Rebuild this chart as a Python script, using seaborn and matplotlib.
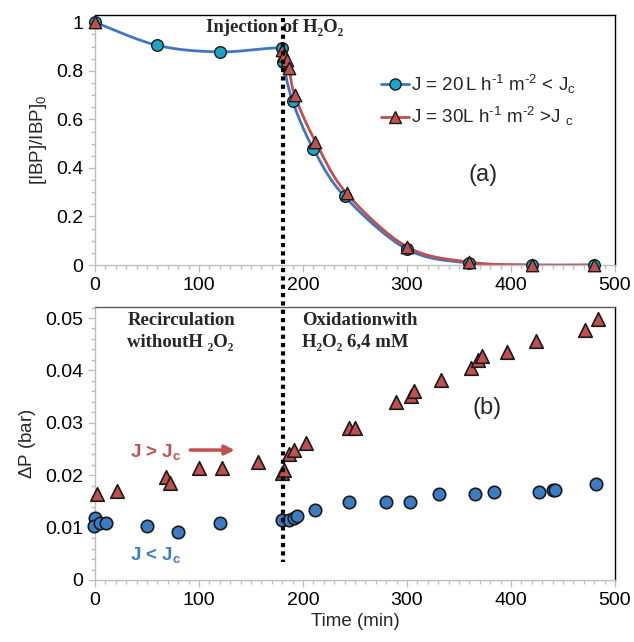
import numpy as np
import pandas as pd
import seaborn as sns
import matplotlib.pyplot as plt
from matplotlib import transforms
from matplotlib.lines import Line2D
from matplotlib.ticker import MultipleLocator, FixedLocator

# ------------------------------- data ------------------------------- #
# (a) normalised IBP concentration
t_a20 = [0, 60, 120, 180, 181, 190, 210, 240, 300, 360, 420, 480]
ibp_20 = [1.0, 0.905, 0.878, 0.893, 0.835, 0.675, 0.478, 0.283, 0.065, 0.008, 0.0, 0.0]
t_a30 = [0, 180, 182, 185, 187, 192, 212, 242, 300, 360, 420, 480]
ibp_30 = [1.0, 0.885, 0.865, 0.843, 0.81, 0.70, 0.508, 0.295, 0.075, 0.012, 0.0, 0.0]

# (b) transmembrane pressure
t_b30 = [2, 21, 68, 72, 100, 122, 157, 180, 182, 187, 191, 203, 244, 250,
         289, 304, 307, 333, 362, 368, 372, 396, 424, 471, 484]
dp_30 = [0.0165, 0.0170, 0.0196, 0.0185, 0.0214, 0.0214, 0.0226, 0.0205, 0.0210, 0.0240,
         0.0249, 0.0261, 0.0290, 0.0290, 0.0340, 0.0351, 0.0361, 0.0382, 0.0405, 0.0420,
         0.0427, 0.0436, 0.0457, 0.0477, 0.0499]
t_b20 = [0, -1, 5, 11, 50, 80, 120, 180, 187, 191, 194, 212, 244,
         280, 303, 331, 365, 384, 427, 440, 442, 482]
dp_20 = [0.0118, 0.0103, 0.0108, 0.0108, 0.0103, 0.0092, 0.0108, 0.0114, 0.0114, 0.0119,
         0.0123, 0.0134, 0.0148, 0.0148, 0.0148, 0.0164, 0.0164, 0.0167, 0.0167, 0.0172,
         0.0172, 0.0183]

lab20 = r"J = 20$\,$L h$^{\text{-}\mathregular{1}}$ m$^{\text{-}\mathregular{2}}$ < J$_{\mathregular{c}}$"
lab30 = r"J = 30L h$^{\text{-}\mathregular{1}}$ m$^{\text{-}\mathregular{2}}$ >J $_{\mathregular{c}}$"

# ------------------------------ styles ------------------------------ #
blue_line = "#4275C0"
cyan = "#1BA3C8"
blue_pt = "#3C7CC4"
red = "#C0504D"
grey = "#BFBFBF"

sns.set_style("white")
plt.rcParams['font.family'] = ['Liberation Sans', 'DejaVu Sans']
plt.rcParams['mathtext.fontset'] = 'custom'
plt.rcParams['mathtext.rm'] = 'Liberation Sans'
plt.rcParams['mathtext.it'] = 'Liberation Sans'
serif = {'family': ['Liberation Serif', 'DejaVu Serif'], 'weight': 'bold', 'size': 13.5}


def smooth(x, y, sx, sy, n=25):
    # excel-like bezier smoothing between the measured points
    p = np.column_stack([np.asarray(x, float) / sx, np.asarray(y, float) / sy])
    out = []
    for i in range(len(p) - 1):
        pm = p[max(i - 1, 0)]
        pp = p[min(i + 2, len(p) - 1)]
        p0, p3 = p[i], p[i + 1]
        c1 = p0 + (p3 - pm) / 6
        c2 = p3 - (pp - p0) / 6
        s = np.linspace(0, 1, n)[:, None]
        seg = (1 - s) ** 3 * p0 + 3 * (1 - s) ** 2 * s * c1 + 3 * (1 - s) * s ** 2 * c2 + s ** 3 * p3
        out.append(seg)
    out = np.vstack(out)
    return out[:, 0] * sx, out[:, 1] * sy


def style_axes(ax, top_col, right_col):
    for side in ['left', 'bottom']:
        ax.spines[side].set_color(grey)
    ax.spines['top'].set_color(top_col)
    ax.spines['right'].set_color(right_col)
    for s in ax.spines.values():
        s.set_linewidth(1.0)
    ax.tick_params(which='both', direction='out', color=grey, labelsize=14,
                   left=True, bottom=True, labelcolor='black')
    ax.tick_params(which='major', length=5, width=1)
    ax.tick_params(which='minor', length=3, width=1)
    ax.xaxis.set_minor_locator(MultipleLocator(10))


fig = plt.figure(figsize=(6.34, 6.42), dpi=100)
ax1 = fig.add_axes([0.1498, 0.5872, 0.8202, 0.3894])
ax2 = fig.add_axes([0.1498, 0.0966, 0.8202, 0.4252])

# ------------------------------ panel (a) ------------------------------ #
xs, ys = smooth(t_a20, ibp_20, 500, 1.03)
sns.lineplot(x=xs, y=ys, sort=False, estimator=None, color=blue_line, lw=2, ax=ax1)
xs, ys = smooth(t_a30[1:], ibp_30[1:], 500, 1.03)
sns.lineplot(x=xs, y=ys, sort=False, estimator=None, color=red, lw=2, ax=ax1)
sns.scatterplot(x=t_a20, y=ibp_20, marker='o', s=70, color=cyan, edgecolor='#1a1a1a',
                linewidth=1, ax=ax1, clip_on=False, zorder=4)
sns.scatterplot(x=t_a30, y=ibp_30, marker='^', s=80, color=red, edgecolor='#1a1a1a',
                linewidth=1, ax=ax1, clip_on=False, zorder=5)

ax1.set_xlim(0, 500)
ax1.set_ylim(0, 1.03)
ax1.yaxis.set_major_locator(FixedLocator([0, 0.2, 0.4, 0.6, 0.8, 1.0]))
ax1.set_yticklabels(['0', '0.2', '0.4', '0.6', '0.8', '1'])
ax1.yaxis.set_minor_locator(MultipleLocator(0.05))
ax1.xaxis.set_major_locator(MultipleLocator(100))
style_axes(ax1, 'black', 'black')
ax1.set_ylabel(r"[IBP]/IBP]$_{\mathregular{0}}$", fontsize=13.5, labelpad=5)
ax1.set_xlabel('')

handles = [
    Line2D([], [], color=blue_line, lw=2, marker='o', markersize=8,
           markerfacecolor=cyan, markeredgecolor='#1a1a1a'),
    Line2D([], [], color=red, lw=2, marker='^', markersize=8.5,
           markerfacecolor=red, markeredgecolor='#1a1a1a'),
]
ax1.legend(handles, [lab20, lab30], loc='upper left', bbox_to_anchor=(0.535, 0.8),
           frameon=False, fontsize=13.5, handlelength=1.5, handletextpad=0.1,
           labelspacing=0.5, borderaxespad=0)

ax1.text(373, 0.372, '(a)', fontsize=17, ha='center', va='center')
ax1.text(107, 0.979, 'Injection of H\u2082O\u2082', ha='left', va='center', fontdict=serif)

# ------------------------------ panel (b) ------------------------------ #
sns.scatterplot(x=t_b30, y=dp_30, marker='^', s=95, color=red, edgecolor='#1a1a1a',
                linewidth=1.2, ax=ax2, clip_on=False, zorder=4)
sns.scatterplot(x=t_b20, y=dp_20, marker='o', s=80, color=blue_pt, edgecolor='#1a1a1a',
                linewidth=1.2, ax=ax2, clip_on=False, zorder=4)
ax2.set_xlim(0, 500)
ax2.set_ylim(0, 0.0521)
ax2.yaxis.set_major_locator(FixedLocator([0, 0.01, 0.02, 0.03, 0.04, 0.05]))
ax2.set_yticklabels(['0', '0.01', '0.02', '0.03', '0.04', '0.05'])
ax2.yaxis.set_minor_locator(MultipleLocator(0.002))
ax2.xaxis.set_major_locator(MultipleLocator(100))
style_axes(ax2, '#595959', 'black')
ax2.set_ylabel(r"$\Delta$P (bar)", fontsize=13.5, labelpad=5)
ax2.set_xlabel('Time (min)', fontsize=13.5, labelpad=3)

ax2.text(34, 0.0244, r'J > J$_{\mathregular{c}}$', color=red, fontsize=13.5,
         fontweight='bold', ha='left', va='center')
ax2.annotate('', xy=(137, 0.0248), xytext=(89, 0.0248),
             arrowprops=dict(arrowstyle='-|>', color=red, lw=2.5, mutation_scale=14))
ax2.text(34, 0.0048, r'J < J$_{\mathregular{c}}$', color=blue_pt, fontsize=13.5,
         fontweight='bold', ha='left', va='center')
ax2.text(377, 0.0328, '(b)', fontsize=17, ha='center', va='center')
ax2.text(31, 0.0511, 'Recirculation\nwithoutH \u2082O\u2082',
         ha='left', va='top', fontdict=serif, linespacing=1.4)
ax2.text(199, 0.0511, 'Oxidationwith\nH\u2082O\u2082 6,4 mM',
         ha='left', va='top', fontdict=serif, linespacing=1.4)

# injection marker spanning both panels
trans = transforms.blended_transform_factory(ax1.transData, fig.transFigure)
fig.add_artist(Line2D([181, 181], [1 - 18 / 642, 1 - 562 / 642], transform=trans,
                      color='black', lw=3, linestyle=(0, (1, 1)), zorder=10))

plt.savefig('out.png', dpi=100)
